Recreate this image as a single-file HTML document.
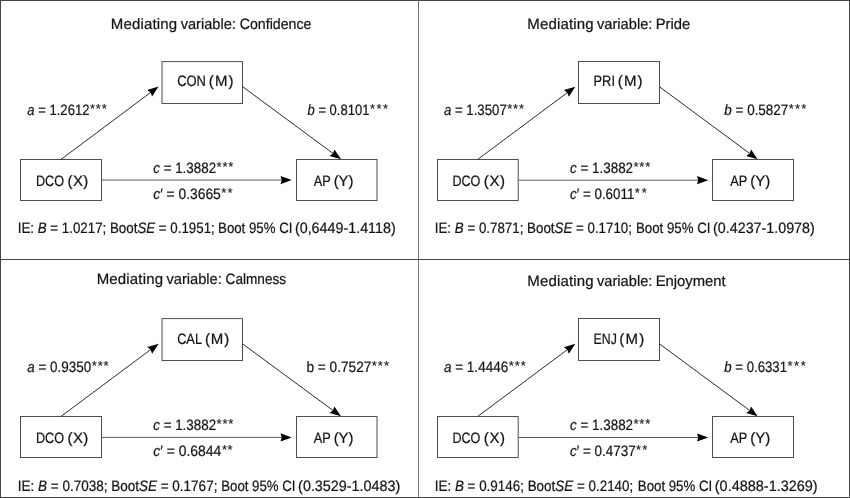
<!DOCTYPE html>
<html lang="en"><head><meta charset="utf-8"><title>Mediation models</title>
<style>
html,body{margin:0;padding:0;background:#fff;}
svg{display:block;will-change:transform;}
text{text-rendering:geometricPrecision;font-family:"Liberation Sans",sans-serif;font-size:15px;fill:#141414;stroke:#141414;stroke-width:0.22px;white-space:pre;}
.i{font-style:italic;}
.st{font-size:13px;fill:#222;stroke:#222;stroke-width:0.15px;}
</style></head><body>
<svg width="850" height="498" viewBox="0 0 850 498">
<rect x="0" y="0" width="850" height="498" fill="#fff"/>
<g stroke="#474747" stroke-width="1" fill="none"><rect x="0.5" y="0.5" width="849" height="497"/><line x1="418.5" y1="0" x2="418.5" y2="498" stroke="#707070"/><line x1="0" y1="259.5" x2="850" y2="259.5"/></g>
<g id="TL">
<rect x="20.50" y="159.50" width="81.00" height="41.00" fill="none" stroke="#4e4e4e" stroke-width="1"/>
<rect x="162.00" y="61.60" width="80.50" height="41.90" fill="none" stroke="#4e4e4e" stroke-width="1"/>
<rect x="296.50" y="159.50" width="80.50" height="41.00" fill="none" stroke="#4e4e4e" stroke-width="1"/>
<line x1="60.90" y1="159.50" x2="150.61" y2="92.45" stroke="#2a2a2a" stroke-width="1"/><path d="M158.62 86.46L152.10 96.45L150.61 92.45L147.19 89.88Z" fill="#000"/>
<line x1="242.50" y1="86.60" x2="332.98" y2="153.40" stroke="#2a2a2a" stroke-width="1"/><path d="M341.02 159.34L329.58 155.98L332.98 153.40L334.45 149.39Z" fill="#000"/>
<line x1="101.50" y1="180.05" x2="281.70" y2="180.05" stroke="#5c5c5c" stroke-width="1"/><path d="M291.70 180.05L280.50 184.15L281.70 180.05L280.50 175.95Z" fill="#000"/>
<text class="s0" x="110.87" y="29" textLength="66.30" lengthAdjust="spacing" xml:space="preserve">Mediating</text>
<text class="s1" x="180.65" y="29" textLength="55.29" lengthAdjust="spacingAndGlyphs" xml:space="preserve">variable:</text>
<text class="s2" x="239.78" y="29" textLength="71.65" lengthAdjust="spacingAndGlyphs" xml:space="preserve">Confidence</text>
<text class="s0" x="27.31" y="115" textLength="62.15" lengthAdjust="spacingAndGlyphs" xml:space="preserve"><tspan class="i">a</tspan> = 1.2612</text>
<text class="s1 st" x="89.89" y="113" textLength="16.91" lengthAdjust="spacing" xml:space="preserve">***</text>
<text class="s0" x="307.54" y="115" textLength="61.89" lengthAdjust="spacingAndGlyphs" xml:space="preserve"><tspan class="i">b</tspan> = 0.8101</text>
<text class="s1 st" x="370.09" y="113" textLength="18.01" lengthAdjust="spacing" xml:space="preserve">***</text>
<text class="s0" x="153.26" y="173" textLength="62.86" lengthAdjust="spacingAndGlyphs" xml:space="preserve"><tspan class="i">c</tspan> = 1.3882</text>
<text class="s1 st" x="216.54" y="171" textLength="16.86" lengthAdjust="spacing" xml:space="preserve">***</text>
<text class="s0" x="153.25" y="199" textLength="67.53" lengthAdjust="spacingAndGlyphs" xml:space="preserve"><tspan class="i">c</tspan>′ = 0.3665</text>
<text class="s1 st" x="221.29" y="197" textLength="11.21" lengthAdjust="spacing" xml:space="preserve">**</text>
<text class="s0" x="17.77" y="233" textLength="197.03" lengthAdjust="spacingAndGlyphs" xml:space="preserve">IE: <tspan class="i">B</tspan> = 1.0217; Boot<tspan class="i">SE</tspan> = 0.1951;</text>
<text class="s1" x="218.06" y="233" textLength="74.36" lengthAdjust="spacingAndGlyphs" xml:space="preserve">Boot 95% CI</text>
<text class="s2" x="294.91" y="233" textLength="100.77" lengthAdjust="spacingAndGlyphs" xml:space="preserve">(0,6449-1.4118)</text>
<text class="s0" x="35.96" y="186" textLength="28.14" lengthAdjust="spacingAndGlyphs" xml:space="preserve">DCO</text>
<text class="s1" x="67.57" y="186" textLength="20.66" lengthAdjust="spacing" xml:space="preserve">(X)</text>
<text class="s0" x="177.14" y="86" textLength="28.71" lengthAdjust="spacingAndGlyphs" xml:space="preserve">CON</text>
<text class="s1" x="208.87" y="86" textLength="24.56" lengthAdjust="spacing" xml:space="preserve">(M)</text>
<text class="s0" x="313.68" y="186" textLength="17.00" lengthAdjust="spacingAndGlyphs" xml:space="preserve">AP</text>
<text class="s1" x="333.68" y="186" textLength="19.74" lengthAdjust="spacingAndGlyphs" xml:space="preserve">(Y)</text>
</g>
<g id="TR">
<rect x="437.50" y="159.50" width="80.70" height="41.00" fill="none" stroke="#4e4e4e" stroke-width="1"/>
<rect x="578.50" y="61.50" width="81.00" height="42.00" fill="none" stroke="#4e4e4e" stroke-width="1"/>
<rect x="712.50" y="159.50" width="81.00" height="41.00" fill="none" stroke="#4e4e4e" stroke-width="1"/>
<line x1="477.60" y1="159.50" x2="567.30" y2="92.64" stroke="#2a2a2a" stroke-width="1"/><path d="M575.32 86.66L568.79 96.64L567.30 92.64L563.89 90.07Z" fill="#000"/>
<line x1="659.50" y1="86.80" x2="749.58" y2="153.39" stroke="#2a2a2a" stroke-width="1"/><path d="M757.62 159.34L746.18 155.98L749.58 153.39L751.05 149.38Z" fill="#000"/>
<line x1="518.20" y1="180.20" x2="698.20" y2="180.20" stroke="#5c5c5c" stroke-width="1"/><path d="M708.20 180.20L697.00 184.30L698.20 180.20L697.00 176.10Z" fill="#000"/>
<text class="s0" x="527.27" y="29" textLength="66.30" lengthAdjust="spacing" xml:space="preserve">Mediating</text>
<text class="s1" x="597.05" y="29" textLength="55.29" lengthAdjust="spacingAndGlyphs" xml:space="preserve">variable:</text>
<text class="s2" x="655.68" y="29" textLength="34.68" lengthAdjust="spacingAndGlyphs" xml:space="preserve">Pride</text>
<text class="s0" x="443.90" y="115" textLength="62.86" lengthAdjust="spacingAndGlyphs" xml:space="preserve"><tspan class="i">a</tspan> = 1.3507</text>
<text class="s1 st" x="507.19" y="113" textLength="16.81" lengthAdjust="spacing" xml:space="preserve">***</text>
<text class="s0" x="724.31" y="115" textLength="64.02" lengthAdjust="spacingAndGlyphs" xml:space="preserve"><tspan class="i">b</tspan> = 0.5827</text>
<text class="s1 st" x="788.74" y="113" textLength="17.46" lengthAdjust="spacing" xml:space="preserve">***</text>
<text class="s0" x="570.06" y="173" textLength="63.01" lengthAdjust="spacingAndGlyphs" xml:space="preserve"><tspan class="i">c</tspan> = 1.3882</text>
<text class="s1 st" x="633.49" y="171" textLength="16.81" lengthAdjust="spacing" xml:space="preserve">***</text>
<text class="s0" x="570.06" y="199" textLength="64.29" lengthAdjust="spacingAndGlyphs" xml:space="preserve"><tspan class="i">c</tspan>′ = 0.6011</text>
<text class="s1 st" x="634.79" y="197" textLength="12.01" lengthAdjust="spacing" xml:space="preserve">**</text>
<text class="s0" x="434.77" y="233" textLength="197.23" lengthAdjust="spacingAndGlyphs" xml:space="preserve">IE: <tspan class="i">B</tspan> = 0.7871; Boot<tspan class="i">SE</tspan> = 0.1710;</text>
<text class="s1" x="635.91" y="233" textLength="74.51" lengthAdjust="spacingAndGlyphs" xml:space="preserve">Boot 95% CI</text>
<text class="s2" x="713.11" y="233" textLength="101.67" lengthAdjust="spacingAndGlyphs" xml:space="preserve">(0.4237-1.0978)</text>
<text class="s0" x="452.47" y="186" textLength="27.93" lengthAdjust="spacingAndGlyphs" xml:space="preserve">DCO</text>
<text class="s1" x="483.87" y="186" textLength="21.06" lengthAdjust="spacing" xml:space="preserve">(X)</text>
<text class="s0" x="593.55" y="86" textLength="21.44" lengthAdjust="spacingAndGlyphs" xml:space="preserve">PRI</text>
<text class="s1" x="617.77" y="86" textLength="24.76" lengthAdjust="spacing" xml:space="preserve">(M)</text>
<text class="s0" x="730.17" y="186" textLength="17.10" lengthAdjust="spacingAndGlyphs" xml:space="preserve">AP</text>
<text class="s1" x="750.17" y="186" textLength="20.16" lengthAdjust="spacing" xml:space="preserve">(Y)</text>
</g>
<g id="BL">
<rect x="20.50" y="416.50" width="81.00" height="41.00" fill="none" stroke="#4e4e4e" stroke-width="1"/>
<rect x="162.00" y="318.60" width="80.50" height="41.90" fill="none" stroke="#4e4e4e" stroke-width="1"/>
<rect x="296.50" y="416.50" width="80.50" height="41.00" fill="none" stroke="#4e4e4e" stroke-width="1"/>
<line x1="60.90" y1="416.50" x2="150.60" y2="349.64" stroke="#2a2a2a" stroke-width="1"/><path d="M158.62 343.66L152.09 353.64L150.60 349.64L147.19 347.07Z" fill="#000"/>
<line x1="242.50" y1="343.80" x2="332.97" y2="410.41" stroke="#2a2a2a" stroke-width="1"/><path d="M341.02 416.34L329.57 413.00L332.97 410.41L334.43 406.40Z" fill="#000"/>
<line x1="101.50" y1="437.40" x2="281.70" y2="437.40" stroke="#5c5c5c" stroke-width="1"/><path d="M291.70 437.40L280.50 441.50L281.70 437.40L280.50 433.30Z" fill="#000"/>
<text class="s0" x="96.67" y="284" textLength="66.30" lengthAdjust="spacing" xml:space="preserve">Mediating</text>
<text class="s1" x="166.45" y="284" textLength="55.29" lengthAdjust="spacingAndGlyphs" xml:space="preserve">variable:</text>
<text class="s2" x="225.61" y="284" textLength="60.48" lengthAdjust="spacingAndGlyphs" xml:space="preserve">Calmness</text>
<text class="s0" x="27.30" y="372" textLength="63.93" lengthAdjust="spacingAndGlyphs" xml:space="preserve"><tspan class="i">a</tspan> = 0.9350</text>
<text class="s1 st" x="91.79" y="370" textLength="16.81" lengthAdjust="spacing" xml:space="preserve">***</text>
<text class="s0" x="306.42" y="372" textLength="64.97" lengthAdjust="spacingAndGlyphs" xml:space="preserve">b = 0.7527</text>
<text class="s1 st" x="371.79" y="370" textLength="17.21" lengthAdjust="spacing" xml:space="preserve">***</text>
<text class="s0" x="153.26" y="430" textLength="62.86" lengthAdjust="spacingAndGlyphs" xml:space="preserve"><tspan class="i">c</tspan> = 1.3882</text>
<text class="s1 st" x="216.54" y="428" textLength="16.86" lengthAdjust="spacing" xml:space="preserve">***</text>
<text class="s0" x="153.24" y="456" textLength="68.06" lengthAdjust="spacingAndGlyphs" xml:space="preserve"><tspan class="i">c</tspan>′ = 0.6844</text>
<text class="s1 st" x="221.99" y="454" textLength="10.51" lengthAdjust="spacing" xml:space="preserve">**</text>
<text class="s0" x="17.75" y="491" textLength="199.66" lengthAdjust="spacingAndGlyphs" xml:space="preserve">IE: <tspan class="i">B</tspan> = 0.7038; Boot<tspan class="i">SE</tspan> = 0.1767;</text>
<text class="s1" x="221.22" y="491" textLength="74.20" lengthAdjust="spacingAndGlyphs" xml:space="preserve">Boot 95% CI</text>
<text class="s2" x="298.11" y="491" textLength="102.18" lengthAdjust="spacingAndGlyphs" xml:space="preserve">(0.3529-1.0483)</text>
<text class="s0" x="35.96" y="443" textLength="28.14" lengthAdjust="spacingAndGlyphs" xml:space="preserve">DCO</text>
<text class="s1" x="67.57" y="443" textLength="20.66" lengthAdjust="spacing" xml:space="preserve">(X)</text>
<text class="s0" x="177.15" y="344" textLength="24.87" lengthAdjust="spacingAndGlyphs" xml:space="preserve">CAL</text>
<text class="s1" x="204.97" y="344" textLength="24.26" lengthAdjust="spacing" xml:space="preserve">(M)</text>
<text class="s0" x="313.68" y="443" textLength="17.00" lengthAdjust="spacingAndGlyphs" xml:space="preserve">AP</text>
<text class="s1" x="333.68" y="443" textLength="19.74" lengthAdjust="spacingAndGlyphs" xml:space="preserve">(Y)</text>
</g>
<g id="BR">
<rect x="437.50" y="416.50" width="80.70" height="41.00" fill="none" stroke="#4e4e4e" stroke-width="1"/>
<rect x="578.50" y="318.50" width="81.00" height="42.00" fill="none" stroke="#4e4e4e" stroke-width="1"/>
<rect x="712.50" y="416.50" width="81.00" height="41.00" fill="none" stroke="#4e4e4e" stroke-width="1"/>
<line x1="477.60" y1="416.50" x2="567.30" y2="349.73" stroke="#2a2a2a" stroke-width="1"/><path d="M575.32 343.76L568.78 353.74L567.30 349.73L563.89 347.16Z" fill="#000"/>
<line x1="659.50" y1="343.90" x2="749.58" y2="410.40" stroke="#2a2a2a" stroke-width="1"/><path d="M757.62 416.34L746.18 412.98L749.58 410.40L751.05 406.39Z" fill="#000"/>
<line x1="518.20" y1="437.50" x2="698.20" y2="437.50" stroke="#5c5c5c" stroke-width="1"/><path d="M708.20 437.50L697.00 441.60L698.20 437.50L697.00 433.40Z" fill="#000"/>
<text class="s0" x="527.27" y="286" textLength="66.30" lengthAdjust="spacing" xml:space="preserve">Mediating</text>
<text class="s1" x="597.05" y="286" textLength="55.29" lengthAdjust="spacingAndGlyphs" xml:space="preserve">variable:</text>
<text class="s2" x="655.68" y="286" textLength="70.02" lengthAdjust="spacingAndGlyphs" xml:space="preserve">Enjoyment</text>
<text class="s0" x="443.90" y="372" textLength="64.35" lengthAdjust="spacingAndGlyphs" xml:space="preserve"><tspan class="i">a</tspan> = 1.4446</text>
<text class="s1 st" x="508.74" y="370" textLength="16.96" lengthAdjust="spacing" xml:space="preserve">***</text>
<text class="s0" x="724.31" y="372" textLength="62.68" lengthAdjust="spacingAndGlyphs" xml:space="preserve"><tspan class="i">b</tspan> = 0.6331</text>
<text class="s1 st" x="787.44" y="370" textLength="18.26" lengthAdjust="spacing" xml:space="preserve">***</text>
<text class="s0" x="570.06" y="430" textLength="63.01" lengthAdjust="spacingAndGlyphs" xml:space="preserve"><tspan class="i">c</tspan> = 1.3882</text>
<text class="s1 st" x="633.49" y="428" textLength="16.81" lengthAdjust="spacing" xml:space="preserve">***</text>
<text class="s0" x="570.06" y="456" textLength="65.61" lengthAdjust="spacingAndGlyphs" xml:space="preserve"><tspan class="i">c</tspan>′ = 0.4737</text>
<text class="s1 st" x="636.09" y="454" textLength="11.21" lengthAdjust="spacing" xml:space="preserve">**</text>
<text class="s0" x="434.76" y="491" textLength="198.54" lengthAdjust="spacingAndGlyphs" xml:space="preserve">IE: <tspan class="i">B</tspan> = 0.9146; Boot<tspan class="i">SE</tspan> = 0.2140;</text>
<text class="s1" x="637.81" y="491" textLength="74.41" lengthAdjust="spacingAndGlyphs" xml:space="preserve">Boot 95% CI</text>
<text class="s2" x="714.80" y="491" textLength="102.89" lengthAdjust="spacingAndGlyphs" xml:space="preserve">(0.4888-1.3269)</text>
<text class="s0" x="452.47" y="443" textLength="27.93" lengthAdjust="spacingAndGlyphs" xml:space="preserve">DCO</text>
<text class="s1" x="483.87" y="443" textLength="21.06" lengthAdjust="spacing" xml:space="preserve">(X)</text>
<text class="s0" x="593.59" y="344" textLength="23.22" lengthAdjust="spacingAndGlyphs" xml:space="preserve">ENJ</text>
<text class="s1" x="619.37" y="344" textLength="24.76" lengthAdjust="spacing" xml:space="preserve">(M)</text>
<text class="s0" x="730.17" y="443" textLength="17.10" lengthAdjust="spacingAndGlyphs" xml:space="preserve">AP</text>
<text class="s1" x="750.17" y="443" textLength="20.16" lengthAdjust="spacing" xml:space="preserve">(Y)</text>
</g>
</svg>
</body></html>
